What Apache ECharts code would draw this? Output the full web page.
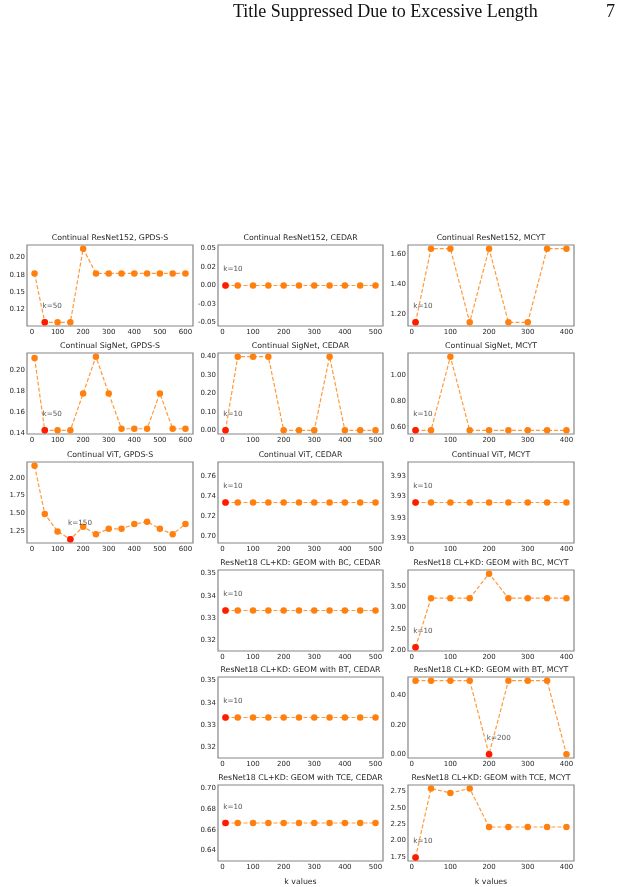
<!DOCTYPE html>
<html>
<head>
<meta charset="utf-8">
<script src="https://cdn.jsdelivr.net/npm/echarts@6/dist/echarts.min.js"></script>
<style>
html, body { margin: 0; padding: 0; background: #fff; }
#chart { width: 635px; height: 887px; }
</style>
</head>
<body>
<div id="chart"></div>
<script>
// k values per dataset
const kGpds = [10, 50, 100, 150, 200, 250, 300, 350, 400, 450, 500, 550, 600];
const kCedar = [10, 50, 100, 150, 200, 250, 300, 350, 400, 450, 500];
const kMcyt = [10, 50, 100, 150, 200, 250, 300, 350, 400];

const xTicksGpds = [0, 100, 200, 300, 400, 500, 600];
const xTicksCedar = [0, 100, 200, 300, 400, 500];
const xTicksMcyt = [0, 100, 200, 300, 400];

// series values
const resnetGpds = [0.177, 0.106, 0.106, 0.106, 0.213, 0.177, 0.177, 0.177, 0.177, 0.177, 0.177, 0.177, 0.177];
const resnetCedar = [0, 0, 0, 0, 0, 0, 0, 0, 0, 0, 0];
const resnetMcyt = [1.146, 1.639, 1.639, 1.146, 1.639, 1.146, 1.146, 1.639, 1.639];
const signetGpds = [0.2117, 0.1425, 0.1425, 0.1425, 0.1778, 0.2129, 0.1778, 0.144, 0.144, 0.144, 0.1778, 0.144, 0.144];
const signetCedar = [0, 0.4, 0.4, 0.4, 0, 0, 0, 0.4, 0, 0, 0];
const signetMcyt = [0.574, 0.574, 1.145, 0.574, 0.574, 0.574, 0.574, 0.574, 0.574];
const vitGpds = [2.172, 1.491, 1.246, 1.135, 1.312, 1.207, 1.283, 1.283, 1.35, 1.383, 1.283, 1.207, 1.35];
const vitCedar = [0.7333, 0.7333, 0.7333, 0.7333, 0.7333, 0.7333, 0.7333, 0.7333, 0.7333, 0.7333, 0.7333];
const vitMcyt = [3.9333, 3.9333, 3.9333, 3.9333, 3.9333, 3.9333, 3.9333, 3.9333, 3.9333];
const bcCedar = [0.3333, 0.3333, 0.3333, 0.3333, 0.3333, 0.3333, 0.3333, 0.3333, 0.3333, 0.3333, 0.3333];
const bcMcyt = [2.071, 3.22, 3.22, 3.22, 3.794, 3.22, 3.22, 3.22, 3.22];
const btCedar = [0.3333, 0.3333, 0.3333, 0.3333, 0.3333, 0.3333, 0.3333, 0.3333, 0.3333, 0.3333, 0.3333];
const btMcyt = [0.5, 0.5, 0.5, 0.5, 0, 0.5, 0.5, 0.5, 0];
const tceCedar = [0.6667, 0.6667, 0.6667, 0.6667, 0.6667, 0.6667, 0.6667, 0.6667, 0.6667, 0.6667, 0.6667];
const tceMcyt = [1.74, 2.794, 2.725, 2.794, 2.206, 2.206, 2.206, 2.206, 2.206];

// y tick values and their printed labels
const yTicks = {
    p11: [0.125, 0.15, 0.175, 0.2], p11L: ['0.12', '0.15', '0.18', '0.20'],
    p12: [-0.05, -0.025, 0, 0.025, 0.05], p12L: ['-0.05', '-0.03', '0.00', '0.02', '0.05'],
    p13: [1.2, 1.4, 1.6], p13L: ['1.20', '1.40', '1.60'],
    p21: [0.14, 0.16, 0.18, 0.2], p21L: ['0.14', '0.16', '0.18', '0.20'],
    p22: [0, 0.1, 0.2, 0.3, 0.4], p22L: ['0.00', '0.10', '0.20', '0.30', '0.40'],
    p23: [0.6, 0.8, 1.0], p23L: ['0.60', '0.80', '1.00'],
    p31: [1.25, 1.5, 1.75, 2.0], p31L: ['1.25', '1.50', '1.75', '2.00'],
    p32: [0.70, 0.72, 0.74, 0.76], p32L: ['0.70', '0.72', '0.74', '0.76'],
    p33: [3.93295, 3.93315, 3.93336, 3.93356], p33L: ['3.93', '3.93', '3.93', '3.93'],
    p42: [0.32, 0.33, 0.34, 0.35], p42L: ['0.32', '0.33', '0.34', '0.35'],
    p43: [2.0, 2.5, 3.0, 3.5], p43L: ['2.00', '2.50', '3.00', '3.50'],
    p52: [0.32, 0.33, 0.34, 0.35], p52L: ['0.32', '0.33', '0.34', '0.35'],
    p53: [0, 0.2, 0.4], p53L: ['0.00', '0.20', '0.40'],
    p62: [0.64, 0.66, 0.68, 0.70], p62L: ['0.64', '0.66', '0.68', '0.70'],
    p63: [1.75, 2.0, 2.25, 2.5, 2.75], p63L: ['1.75', '2.00', '2.25', '2.50', '2.75']
};

const colLeft = [27, 218, 408];
const colWidth = [166, 165, 166];
const rowTop = [245, 353, 462, 570, 677, 785];
const plotH = 81;

// panel list: row, col, title, k, values, tick key
const panels = [
    [0, 0, 'Continual ResNet152, GPDS-S', kGpds, resnetGpds, 'p11', xTicksGpds],
    [0, 1, 'Continual ResNet152, CEDAR', kCedar, resnetCedar, 'p12', xTicksCedar],
    [0, 2, 'Continual ResNet152, MCYT', kMcyt, resnetMcyt, 'p13', xTicksMcyt],
    [1, 0, 'Continual SigNet, GPDS-S', kGpds, signetGpds, 'p21', xTicksGpds],
    [1, 1, 'Continual SigNet, CEDAR', kCedar, signetCedar, 'p22', xTicksCedar],
    [1, 2, 'Continual SigNet, MCYT', kMcyt, signetMcyt, 'p23', xTicksMcyt],
    [2, 0, 'Continual ViT, GPDS-S', kGpds, vitGpds, 'p31', xTicksGpds],
    [2, 1, 'Continual ViT, CEDAR', kCedar, vitCedar, 'p32', xTicksCedar],
    [2, 2, 'Continual ViT, MCYT', kMcyt, vitMcyt, 'p33', xTicksMcyt],
    [3, 1, 'ResNet18 CL+KD: GEOM with BC, CEDAR', kCedar, bcCedar, 'p42', xTicksCedar],
    [3, 2, 'ResNet18 CL+KD: GEOM with BC, MCYT', kMcyt, bcMcyt, 'p43', xTicksMcyt],
    [4, 1, 'ResNet18 CL+KD: GEOM with BT, CEDAR', kCedar, btCedar, 'p52', xTicksCedar],
    [4, 2, 'ResNet18 CL+KD: GEOM with BT, MCYT', kMcyt, btMcyt, 'p53', xTicksMcyt],
    [5, 1, 'ResNet18 CL+KD: GEOM with TCE, CEDAR', kCedar, tceCedar, 'p62', xTicksCedar],
    [5, 2, 'ResNet18 CL+KD: GEOM with TCE, MCYT', kMcyt, tceMcyt, 'p63', xTicksMcyt]
];

const FONT = 'DejaVu Sans';
const TXT = '#262626';

// matplotlib style limits: 5% margins, widen a flat range
const limits = (arr) => {
    let lo = Math.min(...arr), hi = Math.max(...arr);
    if (lo === hi) {
        const d = lo === 0 ? 0.05 : Math.abs(lo) * 0.05;
        lo -= d; hi += d;
    }
    const m = (hi - lo) * 0.05;
    return [lo - m, hi + m];
};

const myChart = echarts.init(document.getElementById('chart'));

const grid = [], xAxis = [], yAxis = [], series = [], title = [];

panels.forEach((p, i) => {
    const [row, col, name, ks, vals, key, xt] = p;
    const left = colLeft[col], width = colWidth[col], top = rowTop[row];
    grid.push({
        left: left, top: top, width: width, height: plotH,
        show: true, borderColor: '#858585', borderWidth: 1.2
    });
    title.push({
        text: name, left: left + width / 2, top: top - 11, textAlign: 'center', padding: 0,
        textStyle: { fontFamily: FONT, fontSize: 7.8, fontWeight: 'normal', color: TXT }
    });
    const xl = limits(ks);
    xAxis.push({
        type: 'value', gridIndex: i, min: xl[0], max: xl[1],
        axisLine: { show: false }, splitLine: { show: false },
        axisTick: { show: false },
        axisLabel: {
            customValues: xt, margin: 3, fontFamily: FONT, fontSize: 7, color: TXT
        },
        name: row === 5 ? 'k values' : '', nameLocation: 'middle', nameGap: 17,
        nameTextStyle: { fontFamily: FONT, fontSize: 7.8, color: TXT }
    });
    let yl = limits(vals);
    if (key === 'p33') yl = [3.9329, 3.9337];
    const ticks = yTicks[key], labs = yTicks[key + 'L'];
    yAxis.push({
        type: 'value', gridIndex: i, min: yl[0], max: yl[1],
        axisLine: { show: false }, splitLine: { show: false },
        axisTick: { show: false },
        axisLabel: {
            customValues: ticks, margin: 2, fontFamily: FONT, fontSize: 7, color: TXT,
            formatter: (v) => {
                let best = 0;
                ticks.forEach((t, j) => { if (Math.abs(t - v) < Math.abs(ticks[best] - v)) best = j; });
                return labs[best];
            }
        }
    });
    const pts = ks.map((k, j) => [k, vals[j]]);
    series.push({
        type: 'line', xAxisIndex: i, yAxisIndex: i, data: pts,
        symbol: 'circle', symbolSize: 6.5, showSymbol: true, animation: false,
        itemStyle: { color: '#ff800e', borderWidth: 0 },
        lineStyle: { color: '#ff9a3c', width: 1.2, type: [4, 2] }
    });
    // best (lowest) k marked in red
    let bi = 0;
    vals.forEach((v, j) => { if (v < vals[bi]) bi = j; });
    series.push({
        type: 'scatter', xAxisIndex: i, yAxisIndex: i, data: [pts[bi]],
        symbol: 'circle', symbolSize: 6.5, z: 5, animation: false,
        itemStyle: { color: '#ff0000' },
        label: {
            show: true, formatter: 'k=' + ks[bi], position: [1, -13],
            align: 'left', verticalAlign: 'middle',
            fontFamily: FONT, fontSize: 7.2, color: TXT
        }
    });
});

const option = {
    backgroundColor: '#fff',
    animation: false,
    title: title,
    grid: grid,
    xAxis: xAxis,
    yAxis: yAxis,
    series: series,
    graphic: [
        {
            type: 'text', left: 233, top: 3,
            style: { text: 'Title Suppressed Due to Excessive Length', font: '18px "Liberation Serif"', fill: '#111' }
        },
        {
            type: 'text', left: 606, top: 3,
            style: { text: '7', font: '18px "Liberation Serif"', fill: '#111' }
        }
    ]
};

myChart.setOption(option);
</script>
</body>
</html>
